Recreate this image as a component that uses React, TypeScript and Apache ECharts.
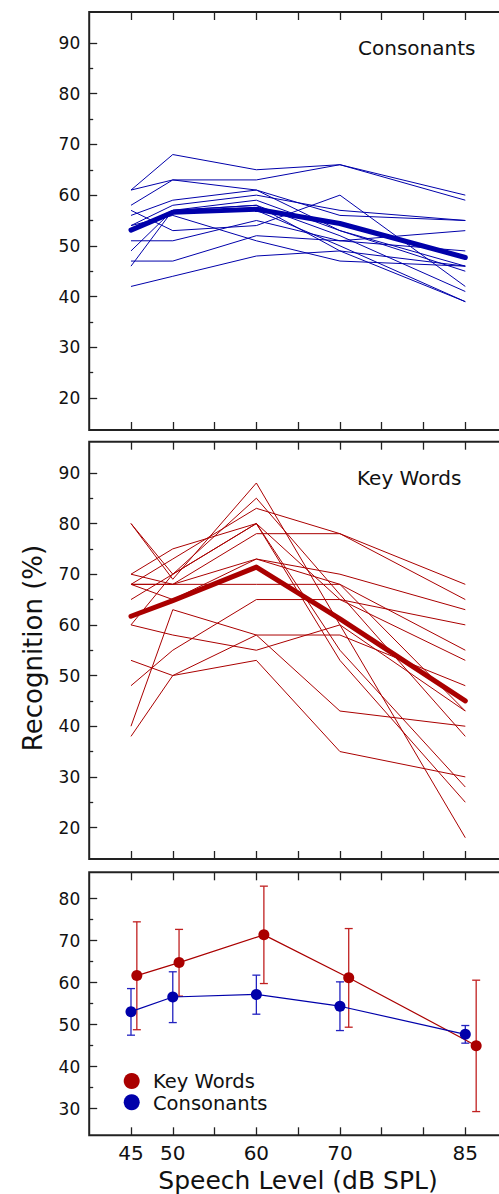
import React, { useEffect, useRef } from "react";
import * as echarts from "echarts";

// ---------- data ----------
const levels = [45, 50, 60, 70, 85];
// key-word means are plotted slightly offset to the right in the bottom panel
const keyWordPlotX = [45.7, 50.75, 60.9, 71.05, 86.3];

const consonantLines = [
  [61, 68, 65, 66, 59],
  [61, 63, 63, 66, 60],
  [58, 63, 61, 53, 46],
  [56, 59, 61, 56, 55],
  [57, 53, 54, 60, 42],
  [54, 58, 60, 57, 55],
  [53, 57, 58, 52, 41],
  [49, 57, 59, 53, 45],
  [46, 57, 57, 50, 39],
  [51, 51, 55, 51, 53],
  [47, 47, 52, 51, 49],
  [42, 44, 48, 49, 46],
  [54, 56, 51, 47, 46],
  [53, 57, 58, 49, 39],
];
const consonantMean = [53.1, 56.6, 57.2, 54.4, 47.7];
const consonantLow = [47.5, 50.5, 52.5, 48.6, 45.6];
const consonantHigh = [58.6, 62.6, 61.8, 60.2, 49.8];

const keyWordLines = [
  [80, 69, 88, 60, 18],
  [80, 70, 80, 53, 25],
  [70, 75, 80, 55, 28],
  [68, 73, 83, 78, 68],
  [65, 70, 85, 66, 38],
  [70, 68, 78, 78, 65],
  [68, 68, 73, 70, 63],
  [60, 70, 80, 65, 53],
  [68, 65, 73, 68, 55],
  [60, 58, 55, 60, 43],
  [48, 55, 65, 65, 60],
  [40, 63, 58, 43, 40],
  [38, 50, 58, 58, 48],
  [53, 50, 53, 35, 30],
  [68, 68, 68, 68, 43],
];
const keyWordMean = [61.7, 64.8, 71.4, 61.2, 45.0];
const keyWordLow = [48.8, 56.8, 59.8, 49.4, 29.3];
const keyWordHigh = [74.5, 72.7, 83.0, 72.9, 60.6];

const xTicks = [45, 50, 55, 60, 65, 70, 75, 80, 85];
const xLabels = [45, 50, 60, 70, 85];
const yMajorTop = [20, 30, 40, 50, 60, 70, 80, 90];
const yMinorTop = [25, 35, 45, 55, 65, 75, 85];
const yMajorBottom = [30, 40, 50, 60, 70, 80];
const yMinorBottom = [35, 45, 55, 65, 75];

// ---------- styling ----------
const FONT = "DejaVu Sans";
const BLUE = "#0000aa";
const RED = "#aa0000";
const FRAME = "#222";

function xAxesFor(g: number, showLabels: boolean) {
  const base = {
    gridIndex: g,
    type: "value",
    min: 40,
    max: 90,
    axisLine: { show: false },
    splitLine: { show: false },
    axisTick: {
      inside: true,
      length: 8,
      customValues: xTicks,
      lineStyle: { color: FRAME, width: 1.3 },
    },
  };
  return [
    {
      ...base,
      position: "bottom",
      axisLabel: showLabels
        ? { customValues: xLabels, fontSize: 20, fontFamily: FONT, color: "#111", margin: 8 }
        : { show: false },
    },
    { ...base, position: "top", axisLabel: { show: false } },
  ];
}

function yAxesFor(g: number, min: number, max: number, majors: number[], minors: number[]) {
  const base = {
    gridIndex: g,
    type: "value",
    min,
    max,
    axisLine: { show: false },
    splitLine: { show: false },
  };
  const tick = (vals: number[], len: number) => ({
    inside: true,
    length: len,
    customValues: vals,
    lineStyle: { color: FRAME, width: 1.3 },
  });
  return [
    {
      ...base,
      position: "left",
      axisTick: tick(majors, 8),
      axisLabel: { customValues: majors, fontSize: 17, fontFamily: FONT, color: "#111", margin: 9 },
    },
    { ...base, position: "left", axisTick: tick(minors, 4), axisLabel: { show: false } },
    { ...base, position: "right", axisTick: tick(majors, 8), axisLabel: { show: false } },
    { ...base, position: "right", axisTick: tick(minors, 4), axisLabel: { show: false } },
  ];
}

function errorBars(name: string, xs: number[], lo: number[], hi: number[], color: string) {
  return {
    type: "custom",
    name,
    xAxisIndex: 4,
    yAxisIndex: 8,
    silent: true,
    encode: { x: 0, y: [1, 2] },
    data: xs.map((x, i) => [x, lo[i], hi[i]]),
    renderItem: (_params: any, api: any) => {
      const x = api.value(0);
      const a = api.coord([x, api.value(1)]);
      const b = api.coord([x, api.value(2)]);
      const cap = 4;
      const style = { stroke: color, lineWidth: 1.3 };
      return {
        type: "group",
        children: [
          { type: "line", shape: { x1: a[0], y1: a[1], x2: b[0], y2: b[1] }, style },
          { type: "line", shape: { x1: a[0] - cap, y1: a[1], x2: a[0] + cap, y2: a[1] }, style },
          { type: "line", shape: { x1: b[0] - cap, y1: b[1], x2: b[0] + cap, y2: b[1] }, style },
        ],
      };
    },
  };
}

function buildOption() {
  const series: any[] = [];
  consonantLines.forEach((vals, i) => {
    series.push({
      type: "line",
      name: "consonant listener " + (i + 1),
      xAxisIndex: 0,
      yAxisIndex: 0,
      data: levels.map((l, j) => [l, vals[j]]),
      symbol: "none",
      silent: true,
      lineStyle: { color: BLUE, width: 1 },
    });
  });
  series.push({
    type: "line",
    name: "consonant mean",
    xAxisIndex: 0,
    yAxisIndex: 0,
    data: levels.map((l, j) => [l, consonantMean[j]]),
    symbol: "none",
    silent: true,
    lineStyle: { color: BLUE, width: 5, cap: "round", join: "round" },
  });
  keyWordLines.forEach((vals, i) => {
    series.push({
      type: "line",
      name: "key word listener " + (i + 1),
      xAxisIndex: 2,
      yAxisIndex: 4,
      data: levels.map((l, j) => [l, vals[j]]),
      symbol: "none",
      silent: true,
      lineStyle: { color: RED, width: 1 },
    });
  });
  series.push({
    type: "line",
    name: "key word mean",
    xAxisIndex: 2,
    yAxisIndex: 4,
    data: levels.map((l, j) => [l, keyWordMean[j]]),
    symbol: "none",
    silent: true,
    lineStyle: { color: RED, width: 5, cap: "round", join: "round" },
  });

  series.push(errorBars("Key Words SD", keyWordPlotX, keyWordLow, keyWordHigh, "#c02020"));
  series.push(errorBars("Consonants SD", levels, consonantLow, consonantHigh, "#2222c0"));
  series.push({
    type: "line",
    name: "Key Words",
    xAxisIndex: 4,
    yAxisIndex: 8,
    data: keyWordPlotX.map((x, j) => [x, keyWordMean[j]]),
    symbol: "circle",
    symbolSize: 11,
    silent: true,
    itemStyle: { color: RED },
    lineStyle: { color: RED, width: 1.2 },
  });
  series.push({
    type: "line",
    name: "Consonants",
    xAxisIndex: 4,
    yAxisIndex: 8,
    data: levels.map((x, j) => [x, consonantMean[j]]),
    symbol: "circle",
    symbolSize: 11,
    silent: true,
    itemStyle: { color: BLUE },
    lineStyle: { color: BLUE, width: 1.2 },
  });

  const gridBase = {
    left: 89.2,
    width: 417.9,
    show: true,
    borderColor: FRAME,
    borderWidth: 2,
    containLabel: false,
    outerBoundsMode: "none",
  };

  return {
    animation: false,
    backgroundColor: "#fff",
    grid: [
      { ...gridBase, top: 12, height: 418 },
      { ...gridBase, top: 441.7, height: 417.3 },
      { ...gridBase, top: 872.3, height: 263 },
    ],
    xAxis: [...xAxesFor(0, false), ...xAxesFor(1, false), ...xAxesFor(2, true)],
    yAxis: [
      ...yAxesFor(0, 13.7, 96.1, yMajorTop, yMinorTop),
      ...yAxesFor(1, 13.8, 96.15, yMajorTop, yMinorTop),
      ...yAxesFor(2, 23.65, 86.3, yMajorBottom, yMinorBottom),
    ],
    series,
    graphic: [
      {
        type: "text",
        x: 358,
        y: 48,
        style: { text: "Consonants", font: `20px "${FONT}"`, fill: "#111", align: "left", verticalAlign: "middle" },
      },
      {
        type: "text",
        x: 357,
        y: 478,
        style: { text: "Key Words", font: `20px "${FONT}"`, fill: "#111", align: "left", verticalAlign: "middle" },
      },
      {
        type: "text",
        x: 33,
        y: 648,
        rotation: Math.PI / 2,
        style: { text: "Recognition (%)", font: `26px "${FONT}"`, fill: "#111", align: "center", verticalAlign: "middle" },
      },
      {
        type: "text",
        x: 298,
        y: 1180,
        style: { text: "Speech Level (dB SPL)", font: `25px "${FONT}"`, fill: "#111", align: "center", verticalAlign: "middle" },
      },
      { type: "circle", shape: { cx: 131.7, cy: 1081, r: 8 }, style: { fill: RED } },
      { type: "circle", shape: { cx: 131.7, cy: 1102.3, r: 8 }, style: { fill: BLUE } },
      {
        type: "text",
        x: 153,
        y: 1081.5,
        style: { text: "Key Words", font: `19.5px "${FONT}"`, fill: "#111", align: "left", verticalAlign: "middle" },
      },
      {
        type: "text",
        x: 153,
        y: 1103,
        style: { text: "Consonants", font: `19.5px "${FONT}"`, fill: "#111", align: "left", verticalAlign: "middle" },
      },
    ],
  };
}

export default function App() {
  const ref = useRef<HTMLDivElement>(null);
  useEffect(() => {
    if (!ref.current) return;
    const chart = echarts.init(ref.current, null, { renderer: "svg" });
    chart.setOption(buildOption() as any);
    return () => chart.dispose();
  }, []);
  return (
    <div
      ref={ref}
      style={{ position: "absolute", left: 0, top: 0, width: 499, height: 1194, background: "#fff" }}
    />
  );
}
